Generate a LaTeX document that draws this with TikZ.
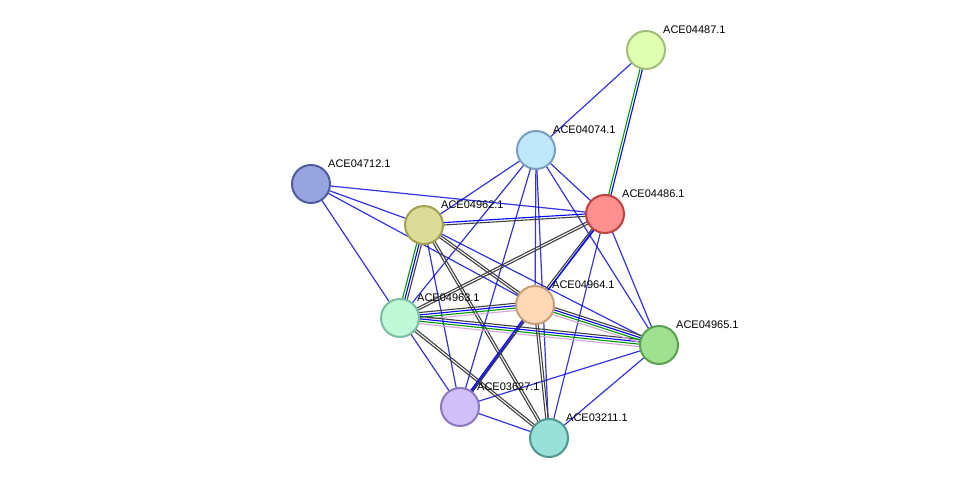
\documentclass[tikz,border=0pt]{standalone}
\usepackage{fontspec}
\setmainfont{Liberation Sans}
\usetikzlibrary{calc}
\begin{document}
\begin{tikzpicture}[x=1pt,y=-1pt,
  prot/.style={circle,minimum size=38pt,inner sep=0pt,line width=2pt},
  lab/.style={font=\fontsize{11pt}{12pt}\selectfont,anchor=south west,inner sep=1pt},
  be/.style={draw=blue!85!black,line width=1.2pt,opacity=0.8},
  ]
\useasboundingbox (0,0) rectangle (975,484);
\coordinate (n87) at (646,50);
\coordinate (n74) at (536,150);
\coordinate (n12) at (311,184);
\coordinate (n86) at (605,214);
\coordinate (n62) at (424,225);
\coordinate (n63) at (400,318);
\coordinate (n64) at (535,305);
\coordinate (n65) at (659,345);
\coordinate (n27) at (460,407);
\coordinate (n11) at (549,438);
\newcommand{\myoe}[4]{\draw[line width=1.1pt,#4] ($(#1)!#3!90:(#2)$) -- ($(#2)!#3!-90:(#1)$);}
\foreach \a/\b in {n87/n74,n74/n62,n74/n63,n74/n86,n74/n64,n74/n65,n74/n27,n74/n11,
 n12/n62,n12/n86,n12/n63,n12/n64,n62/n27,n62/n65,n86/n65,n86/n27,n86/n11,
 n63/n27,n65/n27,n65/n11,n27/n11,n64/n27}
 \draw[be] (\a) -- (\b);
\myoe{n87}{n86}{-1.2pt}{green!60!black}\myoe{n87}{n86}{1.2pt}{blue}
\myoe{n62}{n86}{-1.2pt}{black!75}\myoe{n62}{n86}{1.2pt}{blue}
\myoe{n62}{n63}{-2.4pt}{green!60!black}\myoe{n62}{n63}{0pt}{blue}\myoe{n62}{n63}{2.4pt}{black!75}
\myoe{n62}{n64}{-1.2pt}{black!75}\myoe{n62}{n64}{1.2pt}{black!75}
\myoe{n62}{n11}{-1.2pt}{black!75}\myoe{n62}{n11}{1.2pt}{black!75}
\myoe{n86}{n63}{-1.2pt}{black!75}\myoe{n86}{n63}{1.2pt}{black!75}
\myoe{n86}{n64}{-1.2pt}{black!75}\myoe{n86}{n64}{1.2pt}{blue}
\myoe{n63}{n64}{-3.6pt}{violet!35}\myoe{n63}{n64}{-1.2pt}{green!60!black}\myoe{n63}{n64}{1.2pt}{blue}\myoe{n63}{n64}{3.6pt}{black!75}
\myoe{n63}{n65}{-3.6pt}{violet!35}\myoe{n63}{n65}{-1.2pt}{green!60!black}\myoe{n63}{n65}{1.2pt}{blue}\myoe{n63}{n65}{3.6pt}{black!75}
\myoe{n64}{n65}{-3.6pt}{violet!35}\myoe{n64}{n65}{-1.2pt}{green!60!black}\myoe{n64}{n65}{1.2pt}{blue}\myoe{n64}{n65}{3.6pt}{black!75}
\myoe{n63}{n11}{-1.2pt}{black!75}\myoe{n63}{n11}{1.2pt}{black!75}
\myoe{n64}{n11}{-1.2pt}{black!75}\myoe{n64}{n11}{1.2pt}{black!75}
\myoe{n64}{n27}{-1.2pt}{blue}\myoe{n64}{n27}{1.2pt}{black!75}
\node[prot,fill={rgb,255:red,224;green,255;blue,176},draw={rgb,255:red,160;green,190;blue,120}] (a87) at (n87) {};
\node[prot,fill={rgb,255:red,192;green,232;blue,250},draw={rgb,255:red,120;green,160;blue,190}] (a74) at (n74) {};
\node[prot,fill={rgb,255:red,152;green,164;blue,224},draw={rgb,255:red,80;green,92;blue,160}] (a12) at (n12) {};
\node[prot,fill={rgb,255:red,255;green,144;blue,144},draw={rgb,255:red,192;green,64;blue,64}] (a86) at (n86) {};
\node[prot,fill={rgb,255:red,220;green,220;blue,152},draw={rgb,255:red,160;green,160;blue,80}] (a62) at (n62) {};
\node[prot,fill={rgb,255:red,192;green,248;blue,216},draw={rgb,255:red,120;green,190;blue,160}] (a63) at (n63) {};
\node[prot,fill={rgb,255:red,255;green,216;blue,184},draw={rgb,255:red,200;green,160;blue,120}] (a64) at (n64) {};
\node[prot,fill={rgb,255:red,160;green,224;blue,144},draw={rgb,255:red,90;green,160;blue,80}] (a65) at (n65) {};
\node[prot,fill={rgb,255:red,208;green,192;blue,248},draw={rgb,255:red,140;green,120;blue,190}] (a27) at (n27) {};
\node[prot,fill={rgb,255:red,152;green,224;blue,216},draw={rgb,255:red,80;green,150;blue,140}] (a11) at (n11) {};
\node[lab] (l87) at (662,35) {ACE04487.1};
\node[lab] (l74) at (552,135) {ACE04074.1};
\node[lab] (l12) at (327,169) {ACE04712.1};
\node[lab] (l86) at (621,199) {ACE04486.1};
\node[lab] (l62) at (440,210) {ACE04962.1};
\node[lab] (l63) at (416,303) {ACE04963.1};
\node[lab] (l64) at (551,290) {ACE04964.1};
\node[lab] (l65) at (675,330) {ACE04965.1};
\node[lab] (l27) at (476,392) {ACE03627.1};
\node[lab] (l11) at (565,423) {ACE03211.1};
\end{tikzpicture}
\end{document}
